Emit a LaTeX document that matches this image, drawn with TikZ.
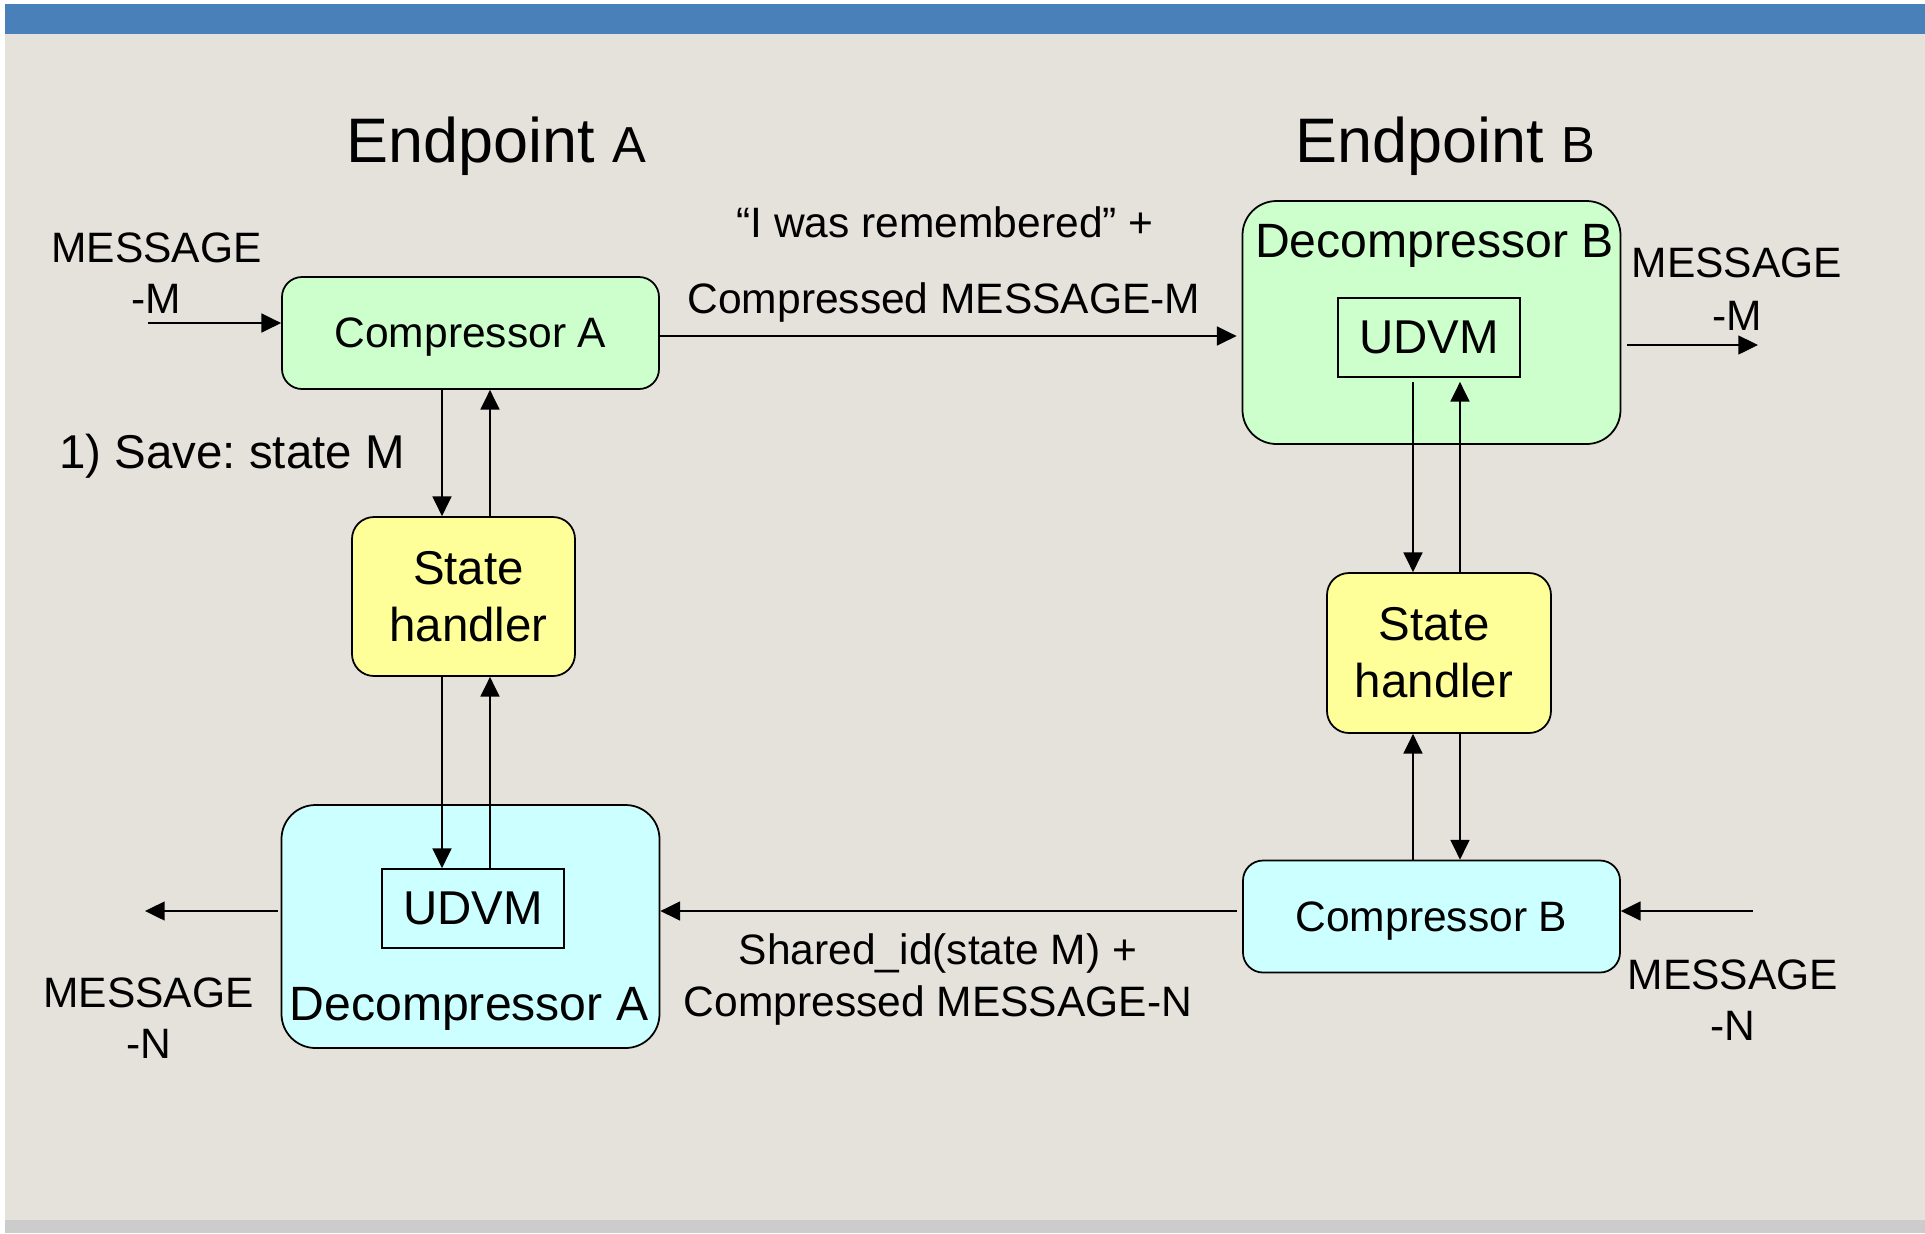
\documentclass[tikz,border=0pt]{standalone}
\usepackage{fontspec}
\setmainfont{Liberation Sans}
\usetikzlibrary{arrows.meta}
\frenchspacing

\definecolor{pagebg}{HTML}{E5E2DB}
\definecolor{bandblue}{HTML}{4A80B9}
\definecolor{footgray}{HTML}{CCCCCC}
\definecolor{compgreen}{HTML}{CCFFCC}
\definecolor{compcyan}{HTML}{CCFFFF}
\definecolor{handleryellow}{HTML}{FFFF99}

% font sizes used in the figure
\newcommand{\txtS}{\fontsize{12.1}{14.5}\selectfont}
\newcommand{\txtD}{\fontsize{13.7}{16}\selectfont}
\newcommand{\txtM}{\fontsize{13.5}{16.2}\selectfont}
\newcommand{\txtT}{\fontsize{17.9}{21}\selectfont}
\newcommand{\txtTs}{\fontsize{14.4}{17}\selectfont}

\begin{document}
\begin{tikzpicture}[x=0.1mm, y=-0.1mm,
  box/.style={draw=black, line width=0.5pt, inner sep=0pt},
  compbox/.style={box, rounded corners=2mm, minimum width=37.7mm,
    minimum height=11.2mm, font=\txtS, text depth=0pt},
  decbox/.style={box, rounded corners=3.4mm, minimum width=37.8mm,
    minimum height=24.3mm},
  udvmbox/.style={box, minimum width=18.2mm, minimum height=7.9mm,
    font=\txtM, text depth=0pt},
  statebox/.style={box, rounded corners=2.2mm, fill=handleryellow,
    minimum width=22.3mm, minimum height=15.9mm, font=\txtM, align=center},
  lbl/.style={inner sep=0pt, anchor=base, font=\txtS},
  arr/.style={line width=0.4pt, -{Triangle[length=5.6pt,width=5.4pt]}}
]
\useasboundingbox (0,0) rectangle (1925,1233);

% page background, header band and footer strip
\fill[white] (0,0) rectangle (1925,1233);
\fill[pagebg] (5,34) rectangle (1925,1220);
\fill[bandblue] (5,4) rectangle (1925,34);
\fill[footgray] (5,1220) rectangle (1925,1233);

% titles
\node[lbl] (epA) at (496,162) {\txtT Endpoint {\txtTs A}};
\node[lbl] (epB) at (1445,162) {\txtT Endpoint {\txtTs B}};

% endpoint A
\node[compbox, fill=compgreen] (compA) at (470.5,333) {Compressor A};
\node[statebox] (stA) at (463.5,596.5) {\hspace*{1mm}State\\\hspace*{1mm}handler};
\node[decbox, fill=compcyan] (decA) at (470.5,926.5) {};
\node[udvmbox] (udvmA) at (473,908.5) {UDVM};
\node[lbl, font=\txtD] (decAtitle) at (469,1020) {Decompressor A};

% endpoint B
\node[decbox, fill=compgreen] (decB) at (1431.5,322.5) {};
\node[udvmbox] (udvmB) at (1429,337.5) {UDVM};
\node[lbl, font=\txtD] (decBtitle) at (1434.5,257) {Decompressor B};
\node[statebox, minimum width=22.4mm, minimum height=16mm] (stB) at (1439,653) {State\hspace*{1mm}\\handler\hspace*{1mm}};
\node[compbox, fill=compcyan] (compB) at (1431.5,916.5) {Compressor B};

% message labels
\node[lbl] (mMinA) at (156.5,262) {MESSAGE};
\node[lbl] (mMinB) at (156.5,313) {-M};
\node[lbl] (mMoutA) at (1737,277) {MESSAGE};
\node[lbl] (mMoutB) at (1737,330) {-M};
\node[lbl] (mNinA) at (1733,989) {MESSAGE};
\node[lbl] (mNinB) at (1733,1040) {-N};
\node[lbl] (mNoutA) at (148.5,1007) {MESSAGE};
\node[lbl] (mNoutB) at (148.5,1058) {-N};

% transfer labels
\node[lbl] (upperA) at (945,237) {“I was remembered” +};
\node[lbl] (upperB) at (944,313) {Compressed MESSAGE-M};
\node[lbl] (lowerA) at (938,964) {Shared\_id(state M) +};
\node[lbl] (lowerB) at (938,1016) {Compressed MESSAGE-N};
\node[lbl, font=\txtM] (save) at (232,468) {1) Save: state M};

% message M path
\coordinate (inM) at (148,323);
\draw[arr] (inM) -- (inM -| compA.west);
\draw[arr, shorten >=0.5mm] ([yshift=-0.3mm]compA.east) -- ([yshift=-0.3mm]compA.east -| decB.west);
\coordinate (outM) at (1758,345);
\draw[arr] ([xshift=0.6mm]decB.east |- outM) -- (outM);

% message N path
\coordinate (inN) at (1753,911);
\draw[arr] (inN) -- (inN -| compB.east);
\draw[arr, shorten <=0.5mm] ([yshift=0.55mm]compB.west) -- ([yshift=0.55mm]compB.west -| decA.east);
\coordinate (outN) at (145,911);
\draw[arr, shorten <=0.3mm] (outN -| decA.west) -- (outN);

% state handler links, endpoint A
\draw[arr] ([xshift=-2.85mm]compA.south) -- ([xshift=-2.85mm]compA.south |- stA.north);
\draw[arr] ([xshift=1.95mm]compA.south |- stA.north) -- ([xshift=1.95mm]compA.south);
\draw[arr] ([xshift=-2.15mm]stA.south) -- ([xshift=-2.15mm]stA.south |- udvmA.north);
\draw[arr] ([xshift=2.65mm]stA.south |- udvmA.north) -- ([xshift=2.65mm]stA.south);

% state handler links, endpoint B
\draw[arr] ([xshift=-1.6mm,yshift=-0.4mm]udvmB.south) -- ([xshift=-1.6mm]udvmB.south |- stB.north);
\draw[arr] ([xshift=3.1mm]udvmB.south |- stB.north) -- ([xshift=3.1mm,yshift=-0.4mm]udvmB.south);
\draw[arr] ([xshift=-2.6mm]stB.south |- compB.north) -- ([xshift=-2.6mm]stB.south);
\draw[arr] ([xshift=2.1mm]stB.south) -- ([xshift=2.1mm]stB.south |- compB.north);
\end{tikzpicture}
\end{document}
